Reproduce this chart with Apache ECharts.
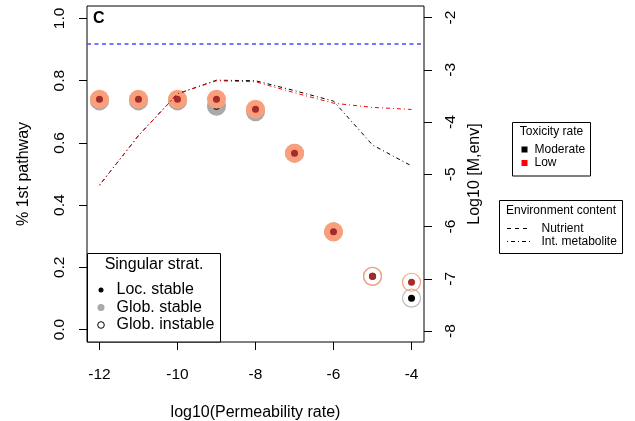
<!DOCTYPE html>
<html>
<head>
<meta charset="utf-8">
<script src="https://cdn.jsdelivr.net/npm/echarts@6/dist/echarts.min.js"></script>
<style>
html,body{margin:0;padding:0;background:#fff;}
#chart{width:635px;height:421px;}
</style>
</head>
<body>
<div id="chart"></div>
<script>
// ---- data ----
const permeability = [-12, -11, -10, -9, -8, -7, -6, -5, -4];
// Low toxicity (red)
const lowGlobStable   = [0.740, 0.740, 0.740, 0.740, 0.708, 0.567, 0.314, null, null];
const lowGlobInstable = [null, null, null, null, null, null, null, 0.171, 0.152];
const lowLocStable    = [0.740, 0.740, 0.740, 0.740, 0.708, 0.567, 0.314, 0.171, 0.152];
// Moderate toxicity (black)
const modGlobStable   = [0.735, 0.735, 0.735, 0.718, 0.700, 0.567, 0.314, null, null];
const modGlobInstable = [null, null, null, null, null, null, null, 0.171, 0.101];
const modLocStable    = [0.735, 0.735, 0.735, 0.718, 0.700, 0.567, 0.314, 0.171, 0.101];
// Int. metabolite concentration, log10 [M,env]
const metaboliteModerate = [-5.21, -4.26, -3.46, -3.20, -3.21, -3.40, -3.60, -4.44, -4.84];
const metaboliteLow      = [-5.21, -4.26, -3.46, -3.21, -3.23, -3.44, -3.64, -3.72, -3.76];
// Nutrient level (left-axis units)
const nutrientLevel = 0.922;
// tick labels
const xTicks = [-12, -10, -8, -6, -4];
const leftTicks = [0, 0.2, 0.4, 0.6, 0.8, 1.0];
const rightTicks = [-8, -7, -6, -5, -4, -3, -2];

const FONT = 'Liberation Sans, Arial, Helvetica, sans-serif';
const SALMON = '#f99f7b', DARKRED = '#a52a2a', GRAY = '#a9a9a9', BLUE = '#4a4aff';

function pairs(xs, ys) {
  const out = [];
  xs.forEach((x, i) => { if (ys[i] !== null && ys[i] !== undefined) out.push([x, ys[i]]); });
  return out;
}

const chart = echarts.init(document.getElementById('chart'), null, {renderer: 'canvas'});

const tickStyle = {show: true, inside: false, length: 8, lineStyle: {color: '#000', width: 1}};
const labelFont = {color: '#000', fontFamily: FONT, fontSize: 15.5};

const option = {
  animation: false,
  backgroundColor: '#fff',
  grid: {left: 87, right: 211, top: 6, bottom: 79, show: true, borderColor: '#000', borderWidth: 1,
         backgroundColor: 'transparent', containLabel: false, outerBoundsMode: 'none'},
  xAxis: {
    type: 'value', min: -12.32, max: -3.68,
    axisLine: {show: false, onZero: false},
    splitLine: {show: false},
    axisTick: Object.assign({customValues: xTicks}, tickStyle),
    axisLabel: Object.assign({customValues: xTicks, margin: 25}, labelFont),
    name: 'log10(Permeability rate)', nameLocation: 'middle', nameGap: 63,
    nameTextStyle: {color: '#000', fontFamily: FONT, fontSize: 16}
  },
  yAxis: [{
    type: 'value', min: -0.04, max: 1.04, position: 'left',
    axisLine: {show: false, onZero: false},
    splitLine: {show: false},
    axisTick: Object.assign({customValues: leftTicks}, tickStyle),
    axisLabel: Object.assign({customValues: leftTicks, rotate: 90, margin: 19, formatter: v => v.toFixed(1)}, labelFont),
    name: '% 1st pathway', nameLocation: 'middle', nameGap: 55,
    nameTextStyle: {color: '#000', fontFamily: FONT, fontSize: 16}
  }, {
    type: 'value', min: -8.21, max: -1.78, position: 'right',
    axisLine: {show: false, onZero: false},
    splitLine: {show: false},
    axisTick: Object.assign({customValues: rightTicks}, tickStyle),
    axisLabel: Object.assign({customValues: rightTicks, rotate: 90, margin: 19, formatter: v => String(v)}, labelFont),
    name: 'Log10 [M,env]', nameLocation: 'middle', nameGap: 42,
    nameTextStyle: {color: '#000', fontFamily: FONT, fontSize: 16}
  }],
  series: [
    {type: 'line', yAxisIndex: 0, data: [], color: BLUE, silent: true,
     markLine: {silent: true, symbol: 'none', label: {show: false},
       lineStyle: {color: BLUE, width: 1.5, type: [4, 3.5], opacity: 1},
       data: [{yAxis: nutrientLevel}]}},
    {type: 'scatter', yAxisIndex: 0, symbol: 'circle', symbolSize: 19, itemStyle: {color: GRAY, opacity: 1}, data: pairs(permeability, modGlobStable), silent: true},
    {type: 'scatter', yAxisIndex: 0, symbol: 'circle', symbolSize: 7, itemStyle: {color: '#000', opacity: 1}, data: pairs(permeability, modLocStable), silent: true},
    {type: 'scatter', yAxisIndex: 0, symbol: 'circle', symbolSize: 18, itemStyle: {color: 'rgba(0,0,0,0)', borderColor: '#bdbdbd', borderWidth: 1.2, opacity: 1}, data: pairs(permeability, modGlobInstable), silent: true},
    {type: 'scatter', yAxisIndex: 0, symbol: 'circle', symbolSize: 19, itemStyle: {color: SALMON, opacity: 1}, data: pairs(permeability, lowGlobStable), silent: true},
    {type: 'scatter', yAxisIndex: 0, symbol: 'circle', symbolSize: 18, itemStyle: {color: 'rgba(0,0,0,0)', borderColor: SALMON, borderWidth: 1.2, opacity: 1}, data: pairs(permeability, lowGlobInstable), silent: true},
    {type: 'scatter', yAxisIndex: 0, symbol: 'circle', symbolSize: 7, itemStyle: {color: DARKRED, opacity: 1}, data: pairs(permeability, lowLocStable), silent: true},
    {type: 'line', yAxisIndex: 1, symbol: 'none', data: pairs(permeability, metaboliteModerate), silent: true,
     lineStyle: {color: '#000', width: 1, type: [1, 3, 4, 3]}, z: 5},
    {type: 'line', yAxisIndex: 1, symbol: 'none', data: pairs(permeability, metaboliteLow), silent: true,
     lineStyle: {color: '#ff0000', width: 1, type: [1, 3, 4, 3]}, z: 5}
  ],
  graphic: [
    {type: 'text', left: 93, top: 11, style: {text: 'C', font: 'bold 16px ' + FONT, fill: '#000'}},
    // Singular strat. legend
    {type: 'rect', shape: {x: 87.5, y: 253.5, width: 133, height: 88.5}, style: {fill: '#fff', stroke: '#000', lineWidth: 1}, z: 20},
    {type: 'text', x: 154, y: 265, style: {text: 'Singular strat.', font: '16px ' + FONT, fill: '#000', align: 'center', verticalAlign: 'middle'}, z: 21},
    {type: 'circle', shape: {cx: 101, cy: 290, r: 2.5}, style: {fill: '#000'}, z: 21},
    {type: 'circle', shape: {cx: 101, cy: 307.5, r: 3.5}, style: {fill: GRAY}, z: 21},
    {type: 'circle', shape: {cx: 101, cy: 325, r: 3.3}, style: {fill: '#fff', stroke: '#000', lineWidth: 1}, z: 21},
    {type: 'text', x: 116.5, y: 290, style: {text: 'Loc. stable', font: '16px ' + FONT, fill: '#000', verticalAlign: 'middle'}, z: 21},
    {type: 'text', x: 116.5, y: 307.5, style: {text: 'Glob. stable', font: '16px ' + FONT, fill: '#000', verticalAlign: 'middle'}, z: 21},
    {type: 'text', x: 116.5, y: 325, style: {text: 'Glob. instable', font: '16px ' + FONT, fill: '#000', verticalAlign: 'middle'}, z: 21},
    // Toxicity legend
    {type: 'rect', shape: {x: 512.5, y: 122.5, width: 78, height: 53.5}, style: {fill: '#fff', stroke: '#000', lineWidth: 1}},
    {type: 'text', x: 551.5, y: 132, style: {text: 'Toxicity rate', font: '12px ' + FONT, fill: '#000', align: 'center', verticalAlign: 'middle'}},
    {type: 'rect', shape: {x: 521.5, y: 146.5, width: 6, height: 6}, style: {fill: '#000'}},
    {type: 'rect', shape: {x: 521.5, y: 160, width: 6, height: 6}, style: {fill: '#ff0000'}},
    {type: 'text', x: 534.5, y: 149.5, style: {text: 'Moderate', font: '12px ' + FONT, fill: '#000', verticalAlign: 'middle'}},
    {type: 'text', x: 534.5, y: 163, style: {text: 'Low', font: '12px ' + FONT, fill: '#000', verticalAlign: 'middle'}},
    // Environment legend
    {type: 'rect', shape: {x: 499.5, y: 200.5, width: 123, height: 53}, style: {fill: '#fff', stroke: '#000', lineWidth: 1}},
    {type: 'text', x: 561, y: 211, style: {text: 'Environment content', font: '12px ' + FONT, fill: '#000', align: 'center', verticalAlign: 'middle'}},
    {type: 'line', shape: {x1: 507, y1: 228.5, x2: 530, y2: 228.5}, style: {stroke: '#000', lineWidth: 1, lineDash: [4, 4]}},
    {type: 'line', shape: {x1: 507, y1: 241.5, x2: 530, y2: 241.5}, style: {stroke: '#000', lineWidth: 1, lineDash: [1, 3, 4, 3]}},
    {type: 'text', x: 541.5, y: 228.5, style: {text: 'Nutrient', font: '12px ' + FONT, fill: '#000', verticalAlign: 'middle'}},
    {type: 'text', x: 541.5, y: 241.5, style: {text: 'Int. metabolite', font: '12px ' + FONT, fill: '#000', verticalAlign: 'middle'}}
  ]
};
chart.setOption(option);
</script>
</body>
</html>
